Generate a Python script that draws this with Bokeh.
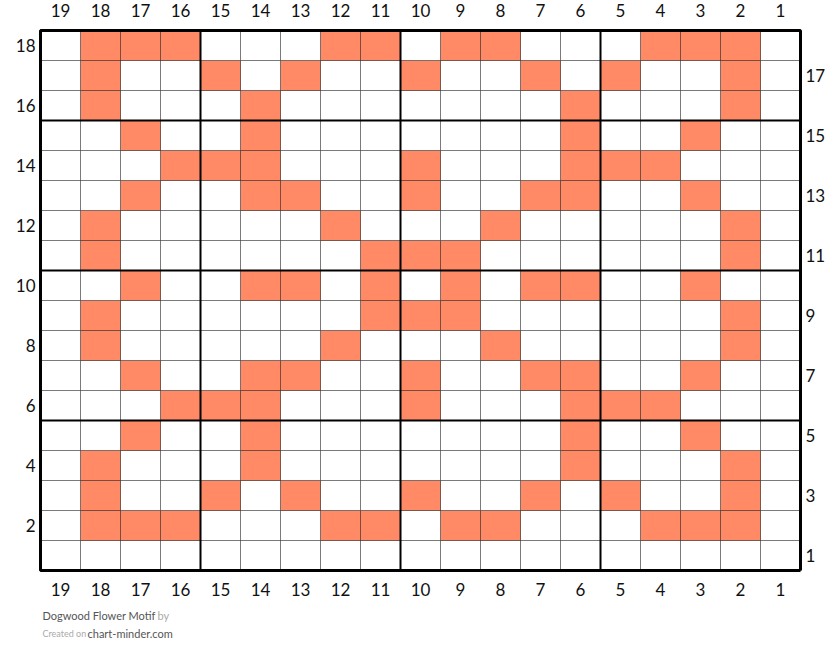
from bokeh.plotting import figure
from bokeh.models import ColumnDataSource, Range1d
from bokeh.core.properties import value
from bokeh.embed import file_html
from bokeh.resources import INLINE

# chart size and which stitches are coloured, per row (row 1 at bottom)
n_cols = 19
n_rows = 18
orange_stitches = {
    18: [18, 17, 16, 12, 11, 9, 8, 4, 3, 2],
    17: [18, 15, 13, 10, 7, 5, 2],
    16: [18, 14, 6, 2],
    15: [17, 14, 6, 3],
    14: [16, 15, 14, 10, 6, 5, 4],
    13: [17, 14, 13, 10, 7, 6, 3],
    12: [18, 12, 8, 2],
    11: [18, 11, 10, 9, 2],
    10: [17, 14, 13, 11, 9, 7, 6, 3],
    9: [18, 11, 10, 9, 2],
    8: [18, 12, 8, 2],
    7: [17, 14, 13, 10, 7, 6, 3],
    6: [16, 15, 14, 10, 6, 5, 4],
    5: [17, 14, 6, 3],
    4: [18, 14, 6, 2],
    3: [18, 15, 13, 10, 7, 5, 2],
    2: [18, 17, 16, 12, 11, 9, 8, 4, 3, 2],
    1: [],
}
col_labels = [str(c) for c in range(1, n_cols + 1)]
row_labels = [str(r) for r in range(1, n_rows + 1)]
title_text = "Dogwood Flower Motif"

ORANGE = "#FF8A65"
FONT = "Lato"

cols, rows, colors = [], [], []
for r in range(1, n_rows + 1):
    for c in range(1, n_cols + 1):
        cols.append(c)
        rows.append(r)
        colors.append(ORANGE if c in orange_stitches[r] else "white")
cells = ColumnDataSource(dict(x=cols, y=rows, color=colors))

# one stitch = 40 x 30 px, columns counted from the right
p = figure(width=840, height=663,
           x_range=Range1d(19 + 60 / 40, 19 - 780 / 40),
           y_range=Range1d(18 - 618 / 30, 18 + 45 / 30),
           output_backend="svg", toolbar_location=None,
           min_border=0, x_axis_location=None, y_axis_location=None)
p.grid.visible = False
p.outline_line_color = None
p.background_fill_color = "white"
p.border_fill_color = "white"

p.rect(x="x", y="y", width=1, height=1, source=cells, fill_color="color",
       line_color="black", line_alpha=0.4, line_width=1)

# heavy lines every five stitches / rows
for k in (5.5, 10.5, 15.5):
    p.segment(x0=[k], y0=[0.5], x1=[k], y1=[n_rows + 0.5], line_color="black", line_width=2)
    p.segment(x0=[0.5], y0=[k], x1=[n_cols + 0.5], y1=[k], line_color="black", line_width=2)

# outer border
p.multi_line(xs=[[0.5, 0.5, n_cols + 0.5, n_cols + 0.5, 0.5]],
             ys=[[0.5, n_rows + 0.5, n_rows + 0.5, 0.5, 0.5]],
             line_color="black", line_width=3)

# column numbers top and bottom
col_num = [int(t) for t in col_labels]
for yy in (19.1667, -0.1333):
    p.text(x=col_num, y=[yy] * len(col_num), text=col_labels,
           text_font=value(FONT), text_font_size="17px", text_color="#111111",
           text_align="center", text_baseline="middle")

# even rows on the left, odd rows on the right
even = [t for t in row_labels if int(t) % 2 == 0]
odd = [t for t in row_labels if int(t) % 2 == 1]
p.text(x=[19.625] * len(even), y=[int(t) for t in even], text=even,
       text_font=value(FONT), text_font_size="17px", text_color="#111111",
       text_align="right", text_baseline="middle")
p.text(x=[0.375] * len(odd), y=[int(t) for t in odd], text=odd,
       text_font=value(FONT), text_font_size="17px", text_color="#111111",
       text_align="left", text_baseline="middle")

# footer
p.text(x=[19.45], y=[-1.0], text=[title_text], text_font=value(FONT),
       text_font_size="11px", text_color="#555555", text_baseline="middle")
p.text(x=[16.575], y=[-1.0], text=["by"], text_font=value(FONT),
       text_font_size="11px", text_color="#aaaaaa", text_baseline="middle")
p.text(x=[19.45], y=[-1.6], text=["Created on"], text_font=value(FONT),
       text_font_size="9px", text_color="#aaaaaa", text_baseline="middle")
p.text(x=[18.325], y=[-1.6], text=["chart-minder.com"], text_font=value(FONT),
       text_font_size="11px", text_color="#555555", text_baseline="middle")

open("out.html", "w").write(file_html(p, INLINE))
